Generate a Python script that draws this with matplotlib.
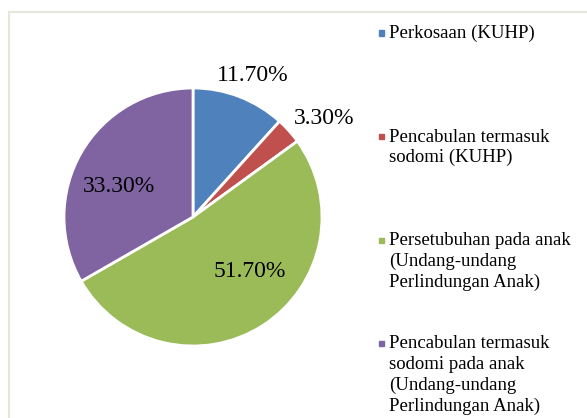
import numpy as np
import matplotlib.pyplot as plt
from matplotlib.patches import Rectangle

plt.rcParams["font.family"] = ["Liberation Serif", "DejaVu Serif"]

labels = [
    "Perkosaan (KUHP)",
    "Pencabulan termasuk\nsodomi (KUHP)",
    "Persetubuhan pada anak\n(Undang-undang\nPerlindungan Anak)",
    "Pencabulan termasuk\nsodomi pada anak\n(Undang-undang\nPerlindungan Anak)",
]
values = [11.7, 3.3, 51.7, 33.3]
colors = ["#4F81BD", "#C0504D", "#9BBB59", "#8064A2"]

W, H = 587, 418
fig = plt.figure(figsize=(W / 100, H / 100), dpi=100)

# light frame around the chart area (cut off at right and bottom)
fig.patches.append(Rectangle((9 / W, -0.1), 1.2, (H - 12) / H + 0.1,
                             transform=fig.transFigure, fill=False,
                             edgecolor="#e6e6dc", linewidth=1.5))

cx, cy, r = 193, 217, 129
ax = fig.add_axes([(cx - r) / W, (H - cy - r) / H, 2 * r / W, 2 * r / H])
wedges, _ = ax.pie(values, colors=colors, startangle=90, counterclock=False,
                   radius=1.0, wedgeprops=dict(edgecolor="white", linewidth=2))
ax.set_xlim(-1, 1)
ax.set_ylim(-1, 1)
ax.set_aspect("equal")
ax.axis("off")

# label placement: (radius, angle shift in degrees) per slice
place = [(1.19, -2), (1.27, -5), (0.61, 13), (0.62, 8)]
for w, v, (rr, da) in zip(wedges, values, place):
    ang = np.deg2rad((w.theta1 + w.theta2) / 2 + da)
    ax.text(rr * np.cos(ang), rr * np.sin(ang), f"{v:.2f}%",
            ha="center", va="center", fontsize=17, clip_on=False)

# legend drawn by hand to match the stacked layout
y0, step = 33, 103.5
for i, (lab, col) in enumerate(zip(labels, colors)):
    y = y0 + i * step
    fig.patches.append(Rectangle((379 / W, (H - y - 2.5) / H), 5 / W, 5 / H,
                                 transform=fig.transFigure, color=col))
    fig.text(389 / W, (H - y + 8) / H, lab, ha="left", va="top",
             fontsize=13.5, linespacing=1.27)

fig.savefig("out.png", dpi=100)
plt.close()
